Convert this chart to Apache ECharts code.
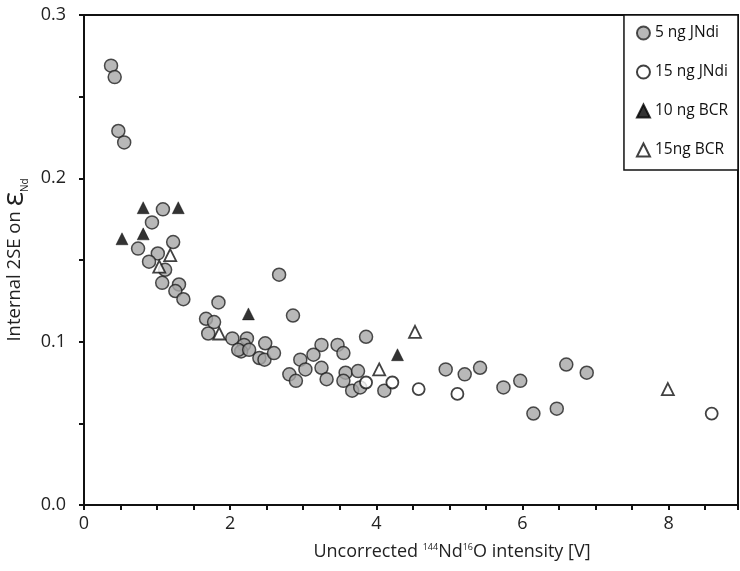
<!DOCTYPE html>
<html>
<head>
<meta charset="utf-8">
<script src="https://cdn.jsdelivr.net/npm/echarts@6/dist/echarts.min.js"></script>
<style>html,body{margin:0;padding:0;background:#fff}#c{width:740px;height:571px}</style>
</head>
<body>
<div id="c"></div>
<script>
// 5 ng JNdi (grey circles): [intensity V, internal 2SE]
var jndi5 = [
  [0.37,0.269],[0.42,0.262],[0.47,0.229],[0.55,0.222],[1.08,0.181],[0.93,0.173],
  [1.22,0.161],[0.74,0.157],[1.01,0.154],[0.89,0.149],[1.11,0.144],[1.07,0.136],
  [1.30,0.135],[1.25,0.131],[1.36,0.126],[1.84,0.124],[2.67,0.141],[1.67,0.114],
  [1.78,0.112],[2.86,0.116],[1.70,0.105],[2.03,0.102],[2.23,0.102],[2.19,0.098],
  [2.48,0.099],[2.15,0.094],[2.11,0.095],[2.26,0.095],[2.40,0.090],[2.47,0.089],
  [2.60,0.093],[3.86,0.103],[3.25,0.098],[3.47,0.098],[3.55,0.093],[3.14,0.092],
  [2.96,0.089],[3.03,0.083],[3.25,0.084],[2.81,0.080],[2.90,0.076],[3.32,0.077],
  [3.58,0.081],[3.55,0.076],[3.75,0.082],[3.67,0.070],[3.78,0.072],[4.11,0.070],
  [4.95,0.083],[5.21,0.080],[5.42,0.084],[5.74,0.072],[5.97,0.076],[6.60,0.086],
  [6.88,0.081],[6.15,0.056],[6.47,0.059]
];
// 15 ng JNdi (open circles)
var jndi15 = [[3.86,0.075],[4.22,0.075],[4.58,0.071],[5.11,0.068],[8.59,0.056]];
// 10 ng BCR (filled triangles)
var bcr10 = [[0.52,0.163],[0.81,0.182],[1.29,0.182],[0.81,0.166],[2.25,0.117],[4.29,0.092]];
// 15ng BCR (open triangles)
var bcr15 = [[1.18,0.153],[1.03,0.146],[1.85,0.105],[4.04,0.083],[4.53,0.106],[7.99,0.071]];

var xTickLabels = [0,2,4,6,8];
var yTickLabels = ['0.0','0.1','0.2','0.3'];

var font = 'Open Sans';
var chart = echarts.init(document.getElementById('c'));
chart.setOption({
  animation:false,
  backgroundColor:'#fff',
  grid:{left:84,top:15,right:2,bottom:66,show:true,borderColor:'#111',borderWidth:2,
        containLabel:false, outerBoundsMode:'none'},
  legend:{
    orient:'vertical', right:2, top:15, padding:[10,10,12,12], itemGap:23,
    borderColor:'#111', borderWidth:1.5, backgroundColor:'#fff',
    itemWidth:13, itemHeight:13,
    textStyle:{fontFamily:font,fontSize:15.5,color:'#111'},
    data:['5 ng JNdi','15 ng JNdi','10 ng BCR','15ng BCR']
  },
  xAxis:{
    type:'value', min:0, max:8.95, interval:0.5,
    axisLine:{lineStyle:{color:'#111',width:2}},
    axisTick:{show:true,length:5,lineStyle:{color:'#111',width:2}},
    splitLine:{show:false},
    axisLabel:{fontFamily:font,fontSize:18,color:'#222',margin:10,
      formatter:function(v){return xTickLabels.indexOf(v)>=0 ? String(v) : '';}},
    name:'{a|Uncorrected }{s|144}{a|Nd}{s|16}{a|O intensity [V]}',
    nameLocation:'middle', nameGap:38,
    nameTextStyle:{padding:[0,0,0,82],rich:{
      a:{fontFamily:font,fontSize:18,color:'#222'},
      s:{fontFamily:font,fontSize:9,color:'#222',verticalAlign:'top',padding:[0,0,9,0]}}}
  },
  yAxis:{
    type:'value', min:0, max:0.3, interval:0.05,
    axisLine:{lineStyle:{color:'#111',width:2}},
    axisTick:{show:true,length:5,lineStyle:{color:'#111',width:2}},
    splitLine:{show:false},
    axisLabel:{fontFamily:font,fontSize:18,color:'#222',margin:18,
      formatter:function(v){var t=v.toFixed(1); return (Math.abs(v-parseFloat(t))<1e-9 && yTickLabels.indexOf(t)>=0)? t : '';}},
    name:'{a|Internal 2SE on }{e|ε}{n|Nd}',
    nameLocation:'middle', nameGap:51, nameRotate:90,
    nameTextStyle:{rich:{
      a:{fontFamily:font,fontSize:18.5,color:'#222'},
      e:{fontFamily:font,fontSize:30,color:'#222'},
      n:{fontFamily:font,fontSize:10,color:'#222',verticalAlign:'bottom',padding:[8,0,0,0]}}}
  },
  series:[
    {name:'5 ng JNdi',type:'scatter',symbol:'circle',symbolSize:13,data:jndi5,
     itemStyle:{color:'#a6a6a6',borderColor:'#222',borderWidth:1.5}},
    {name:'15 ng JNdi',type:'scatter',symbol:'circle',symbolSize:12,data:jndi15,
     itemStyle:{color:'#fff',borderColor:'#111',borderWidth:1.8}},
    {name:'10 ng BCR',type:'scatter',symbol:'triangle',symbolSize:12,data:bcr10,
     itemStyle:{color:'#000',borderColor:'#000',borderWidth:0.5}},
    {name:'15ng BCR',type:'scatter',symbol:'triangle',symbolSize:12,data:bcr15,
     itemStyle:{color:'#fff',borderColor:'#111',borderWidth:1.8}}
  ]
});
</script>
</body>
</html>
